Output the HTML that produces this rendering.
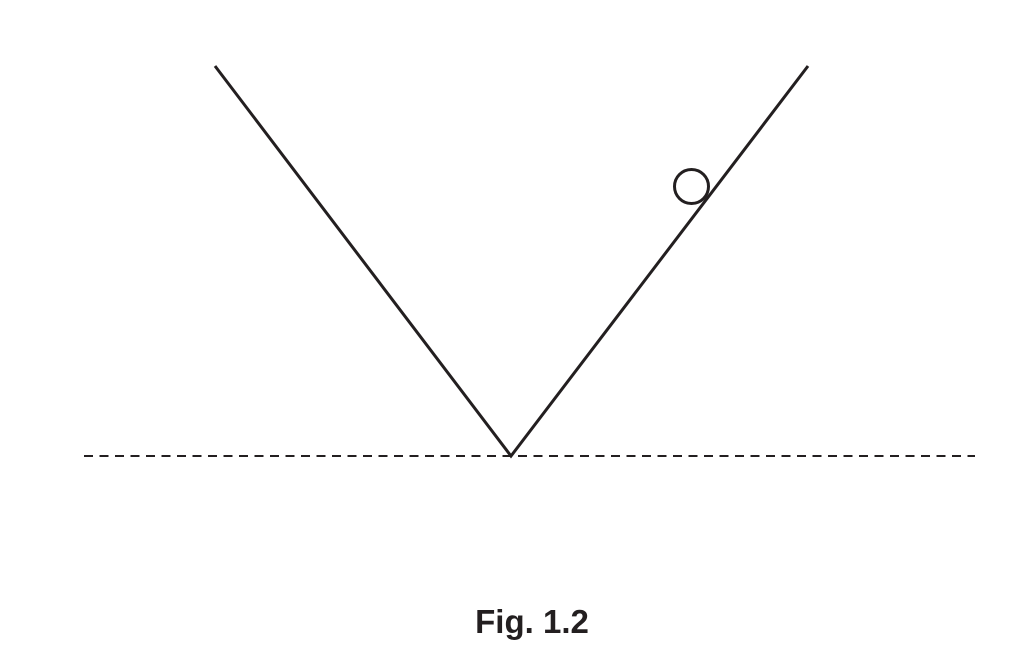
<!DOCTYPE html>
<html><head><style>
html,body{margin:0;padding:0;background:#fff;}
</style></head><body>
<svg width="1022" height="660" viewBox="0 0 1022 660" xmlns="http://www.w3.org/2000/svg">
<rect width="1022" height="660" fill="#fff"/>
<line x1="84" y1="456" x2="975" y2="456" stroke="#231f20" stroke-width="2" stroke-dasharray="9,6.5"/>
<polyline points="215,66 511,456 808,66" fill="none" stroke="#231f20" stroke-width="3"/>
<circle cx="691.5" cy="186.5" r="17" fill="none" stroke="#231f20" stroke-width="3"/>
<text x="532" y="633" text-anchor="middle" font-family="Liberation Sans, Arial, sans-serif" font-weight="bold" font-size="33" fill="#231f20">Fig. 1.2</text>
</svg>
</body></html>
